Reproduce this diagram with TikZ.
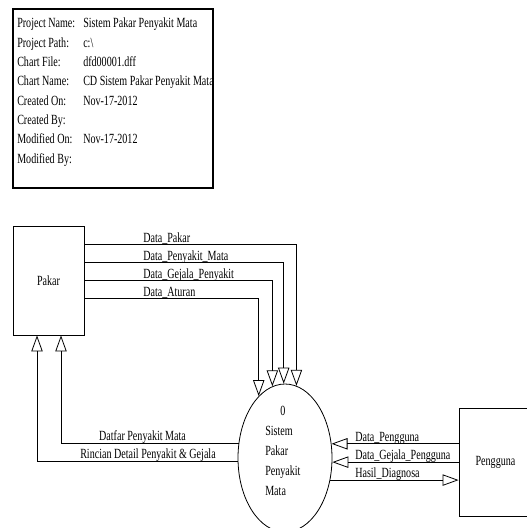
\documentclass[tikz,border=0pt]{standalone}
\usepackage{fontspec}
\setmainfont{Liberation Serif}[FakeStretch=0.72]
\usetikzlibrary{calc, arrows.meta, shapes.geometric, positioning}

\tikzset{
  entidad/.style={draw, line width=0.6pt, inner sep=0pt},
  proceso/.style={draw, ellipse, line width=0.6pt, inner sep=0pt, minimum width=70.5pt, minimum height=111pt},
  flujo/.style={line width=0.6pt, -{Triangle[open, length=12pt, width=8.5pt]}},
  etiqueta/.style={inner sep=0pt}
}

\begin{document}
\begin{tikzpicture}[x=0.75pt, y=-0.75pt, font=\fontsize{10.5}{12}\selectfont]
\useasboundingbox (0,0) rectangle (526,528);
% Cuadro de datos
\node[draw, line width=0.8pt, minimum width=150pt, minimum height=134.25pt, inner sep=0pt] (info) at (113,98.5) {};
\node[etiqueta, anchor=base west, font=\fontsize{10.5}{14.5}\selectfont] (infotxt) at (17,28) {%
\begin{tabular}[t]{@{}p{49.5pt}@{}l@{}}
Project Name: & Sistem Pakar Penyakit Mata\\
Project Path: & c:\textbackslash\\
Chart File: & dfd00001.dff\\
Chart Name: & CD Sistem Pakar Penyakit Mata\\
Created On: & Nov-17-2012\\
Created By: & \\
Modified On: & Nov-17-2012\\
Modified By: &
\end{tabular}};
% Entidades y proceso
\node[entidad, minimum width=53.25pt, minimum height=81.75pt] (pakar) at (48.5,280.5) {Pakar};
\node[entidad, minimum width=54.75pt, minimum height=81pt] (pengguna) at (495.5,462) {Pengguna};
\node[proceso] (sistem) at (285,458) {};
\node[etiqueta, anchor=west, font=\fontsize{10.5}{15}\selectfont] (sistemtxt) at (265,451) {%
\begin{tabular}{@{}l@{}}
\multicolumn{1}{@{}c@{}}{0}\\
Sistem\\
Pakar\\
Penyakit\\
Mata
\end{tabular}};
% Pakar -> Sistem
\draw[flujo] ($(pakar.north east)+(0,19)$) -| (sistem.81);
\draw[flujo] ($(pakar.north east)+(0,37)$) -| (sistem.91);
\draw[flujo] ($(pakar.north east)+(0,55)$) -| (sistem.100);
\draw[flujo] ($(pakar.north east)+(0,73)$) -| (sistem.113);
\node[etiqueta, anchor=base west] (lbpakar) at (143,242) {Data\_Pakar};
\node[etiqueta, anchor=base west] (lbpenyakit) at (143,260) {Data\_Penyakit\_Mata};
\node[etiqueta, anchor=base west] (lbgejala) at (143,278) {Data\_Gejala\_Penyakit};
\node[etiqueta, anchor=base west] (lbaturan) at (143,296) {Data\_Aturan};
% Sistem -> Pakar
\draw[flujo] (sistem.162) -| ($(pakar.south)+(12.5,0)$);
\draw[flujo] (sistem.184) -| ($(pakar.south)+(-11.5,0)$);
\node[etiqueta, anchor=base] (lbdaftar) at (142.5,440) {Datfar Penyakit Mata};
\node[etiqueta, anchor=base] (lbrincian) at (148,458) {Rincian Detail Penyakit \& Gejala};
% Pengguna <-> Sistem
\draw[flujo] (sistem.17 -| pengguna.west) -- (sistem.17);
\draw[flujo] (sistem.355 -| pengguna.west) -- (sistem.355);
\draw[flujo] (sistem.334) -- (sistem.334 -| pengguna.west);
\node[etiqueta, anchor=base west] (lbpengguna) at (355,441) {Data\_Pengguna};
\node[etiqueta, anchor=base west] (lbgejalap) at (355,459) {Data\_Gejala\_Pengguna};
\node[etiqueta, anchor=base west] (lbhasil) at (355,477) {Hasil\_Diagnosa};
\end{tikzpicture}
\end{document}
